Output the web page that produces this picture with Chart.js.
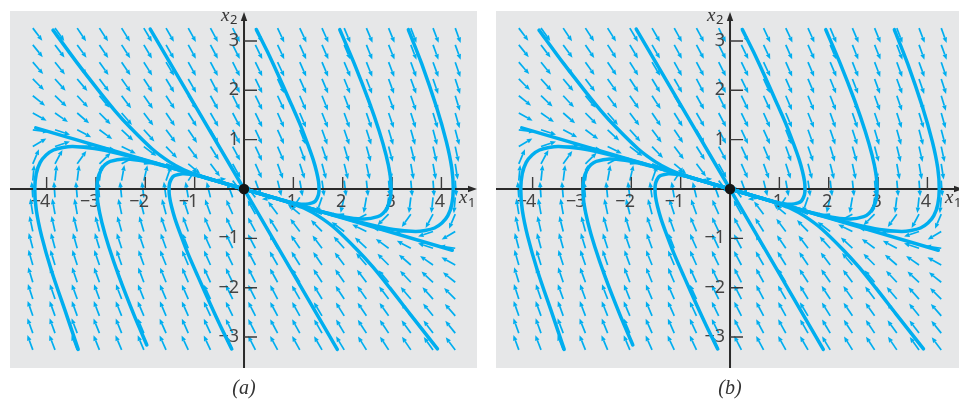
<!DOCTYPE html>
<html>
<head>
<meta charset="utf-8">
<script src="https://cdn.jsdelivr.net/npm/chart.js@4.4.0/dist/chart.umd.min.js"></script>
<style>
  html, body { margin: 0; padding: 0; background: #fff; }
  body { width: 959px; height: 399px; position: relative; overflow: hidden; }
  .panel { position: absolute; top: 0; height: 399px; overflow: hidden; }
  canvas { display: block; }
</style>
</head>
<body>
<div class="panel" style="left:0;width:480px"><canvas id="chartA" width="480" height="399"></canvas></div>
<div class="panel" style="left:480px;width:479px"><canvas id="chartB" width="486" height="399"></canvas></div>
<script>
// --- direction field grid (arrow tails) ---
const fieldX = [-4.28, -3.83, -3.38, -2.93, -2.48, -2.03, -1.58, -1.13, -0.68, -0.23,
                0.23, 0.68, 1.13, 1.58, 2.03, 2.48, 2.93, 3.38, 3.83, 4.28];
const fieldY = [3.26, 2.92, 2.57, 2.23, 1.89, 1.54, 1.20, 0.86, 0.51, 0.17,
                -0.17, -0.51, -0.86, -1.20, -1.54, -1.89, -2.23, -2.57, -2.92, -3.26];
// arrow direction in degrees (counter-clockwise from +x1), one row per fieldY value
const fieldAngles = [
  [-53,-54,-56,-57,-58,-59,-60,-61,-62,-63,-64,-65,-65,-66,-67,-67,-68,-69,-69,-70],
  [-51,-53,-54,-56,-57,-59,-60,-61,-62,-63,-64,-65,-66,-66,-67,-68,-68,-69,-70,-70],
  [-49,-51,-53,-55,-56,-58,-59,-61,-62,-63,-64,-65,-66,-67,-67,-68,-69,-70,-70,-71],
  [-45,-48,-50,-53,-55,-57,-59,-60,-62,-63,-64,-65,-66,-67,-68,-69,-70,-70,-71,-72],
  [-39,-43,-47,-50,-53,-55,-57,-59,-61,-63,-64,-65,-67,-68,-69,-70,-70,-71,-72,-73],
  [-29,-35,-41,-45,-49,-53,-56,-58,-60,-62,-64,-66,-67,-68,-70,-71,-71,-72,-73,-74],
  [-8,-18,-28,-36,-43,-48,-53,-56,-60,-62,-65,-66,-68,-70,-71,-72,-73,-74,-75,-75],
  [31,19,3,-12,-26,-37,-46,-53,-58,-62,-65,-67,-70,-71,-73,-74,-75,-76,-77,-78],
  [67,62,55,45,28,4,-21,-40,-53,-61,-66,-70,-72,-75,-76,-78,-79,-80,-80,-81],
  [85,84,83,82,80,77,71,57,7,-52,-70,-76,-80,-82,-83,-84,-85,-85,-86,-86],
  [94,94,95,95,96,97,98,100,104,110,128,-173,-123,-109,-103,-100,-98,-97,-96,-95],
  [99,100,100,101,102,104,105,108,110,114,119,127,140,159,-176,-152,-135,-125,-118,-113],
  [102,103,104,105,106,107,109,110,113,115,118,122,127,134,143,154,168,-177,-161,-149],
  [105,105,106,107,108,109,110,112,114,115,118,120,124,127,132,137,144,152,162,172],
  [106,107,108,109,109,110,112,113,114,116,118,120,122,124,127,131,135,139,145,151],
  [107,108,109,110,110,111,112,113,115,116,117,119,121,123,125,127,130,133,137,141],
  [108,109,110,110,111,112,113,114,115,116,117,118,120,121,123,125,127,130,132,135],
  [109,110,110,111,112,113,113,114,115,116,117,118,119,121,122,124,125,127,129,131],
  [110,110,111,112,112,113,114,114,115,116,117,118,119,120,121,123,124,126,127,129],
  [110,111,111,112,113,113,114,115,115,116,117,118,119,120,121,122,123,124,126,127]
];

// --- trajectories [x1, x2] ---
const slowUpper = [[-4.22, 1.24], [0, 0]];
const slowLower = [[4.22, -1.24], [0, 0]];
const fastUpper = [[-1.90, 3.24], [0, 0]];
const fastLower = [[1.89, -3.25], [0, 0]];
const trajA = [[-3.87,3.22],[-3.37,2.54],[-2.95,2.0],[-2.61,1.58],[-2.31,1.25],[-1.86,0.81],
               [-1.51,0.55],[-1.22,0.39],[-0.96,0.29],[-0.72,0.21],[0,0]];
const trajJ = [[3.92,-3.24],[3.37,-2.54],[2.95,-2.0],[2.61,-1.58],[2.31,-1.25],[1.86,-0.81],
               [1.51,-0.55],[1.22,-0.39],[0.96,-0.29],[0.72,-0.21],[0,0]];
const trajC = [[0.25,3.23],[0.48,2.77],[0.67,2.36],[0.93,1.78],[1.14,1.30],[1.29,0.91],[1.40,0.60],
               [1.47,0.35],[1.51,0.15],[1.52,0],[1.51,-0.11],[1.48,-0.19],[1.44,-0.25],[1.38,-0.28],
               [1.25,-0.31],[1.09,-0.30],[0.91,-0.26],[0.73,-0.21],[0,0]];
const trajD = [[1.94,3.23],[2.23,2.55],[2.53,1.78],[2.74,1.17],[2.88,0.68],[2.96,0.29],[2.98,0],
               [2.96,-0.22],[2.90,-0.38],[2.82,-0.49],[2.71,-0.56],[2.44,-0.61],[2.13,-0.58],
               [1.79,-0.51],[1.44,-0.42],[1.08,-0.32],[0,0]];
const trajE = [[3.33,3.23],[3.60,2.54],[3.90,1.66],[4.10,0.96],[4.21,0.42],[4.24,0],[4.21,-0.31],
               [4.13,-0.54],[4.01,-0.69],[3.86,-0.79],[3.67,-0.84],[3.47,-0.86],[3.03,-0.82],
               [2.54,-0.72],[2.04,-0.59],[1.54,-0.45],[0,0]];
const trajF = [[-3.36,-3.25],[-3.60,-2.54],[-3.90,-1.66],[-4.10,-0.96],[-4.21,-0.42],[-4.24,0],
               [-4.21,0.31],[-4.13,0.54],[-4.01,0.69],[-3.86,0.79],[-3.67,0.84],[-3.47,0.86],
               [-3.03,0.82],[-2.54,0.72],[-2.04,0.59],[-1.54,0.45],[0,0]];
const trajG = [[-1.97,-3.16],[-2.23,-2.55],[-2.53,-1.78],[-2.74,-1.17],[-2.88,-0.68],[-2.96,-0.29],
               [-2.98,0],[-2.96,0.22],[-2.90,0.38],[-2.82,0.49],[-2.71,0.56],[-2.44,0.61],
               [-2.13,0.58],[-1.79,0.51],[-1.44,0.42],[-1.08,0.32],[0,0]];
const trajH = [[-0.25,-3.24],[-0.48,-2.77],[-0.67,-2.36],[-0.93,-1.78],[-1.14,-1.30],[-1.29,-0.91],
               [-1.40,-0.60],[-1.47,-0.35],[-1.51,-0.15],[-1.52,0],[-1.51,0.11],[-1.48,0.19],
               [-1.44,0.25],[-1.38,0.28],[-1.25,0.31],[-1.09,0.30],[-0.91,0.26],[-0.73,0.21],[0,0]];

const xTicks = [-4, -3, -2, -1, 1, 2, 3, 4];
const yTicks = [-3, -2, -1, 1, 2, 3];

const CYAN = '#00aeef';
const AXIS = '#2a2a2a';
const LABEL = '#444444';
const ARROW_LEN = 0.32; // data units

const trajectories = [slowUpper, slowLower, fastUpper, fastLower,
  trajA, trajJ, trajC, trajD, trajE, trajF, trajG, trajH];

function drawArrow(ctx, x0, y0, x1, y1) {
  const ang = Math.atan2(y1 - y0, x1 - x0);
  const head = 5.5, half = 2.3;
  const bx = x1 - head * Math.cos(ang), by = y1 - head * Math.sin(ang);
  ctx.beginPath();
  ctx.moveTo(x0, y0);
  ctx.lineTo(bx, by);
  ctx.stroke();
  ctx.beginPath();
  ctx.moveTo(x1, y1);
  ctx.lineTo(bx - half * Math.sin(ang), by + half * Math.cos(ang));
  ctx.lineTo(bx + half * Math.sin(ang), by - half * Math.cos(ang));
  ctx.closePath();
  ctx.fill();
}

const phasePlugin = {
  id: 'phase',
  beforeDraw(chart) {
    const { ctx, chartArea: a } = chart;
    ctx.save();
    ctx.fillStyle = '#e6e7e8';
    ctx.fillRect(a.left, a.top, a.right - a.left, a.bottom - a.top);
    ctx.restore();
  },
  beforeDatasetsDraw(chart) {
    const { ctx, chartArea: a } = chart;
    const xs = chart.scales.x, ys = chart.scales.y;
    ctx.save();
    // direction field
    ctx.strokeStyle = CYAN;
    ctx.fillStyle = CYAN;
    ctx.lineWidth = 1.7;
    ctx.lineCap = 'butt';
    fieldY.forEach((fy, r) => {
      fieldX.forEach((fx, c) => {
        const t = fieldAngles[r][c] * Math.PI / 180;
        drawArrow(ctx,
          xs.getPixelForValue(fx), ys.getPixelForValue(fy),
          xs.getPixelForValue(fx + ARROW_LEN * Math.cos(t)), ys.getPixelForValue(fy + ARROW_LEN * Math.sin(t)));
      });
    });

    // axes
    const ox = xs.getPixelForValue(0), oy = ys.getPixelForValue(0);
    ctx.strokeStyle = AXIS;
    ctx.fillStyle = AXIS;
    ctx.lineWidth = 2;
    ctx.beginPath();
    ctx.moveTo(a.left, oy); ctx.lineTo(a.right - 6, oy);
    ctx.moveTo(ox, a.bottom); ctx.lineTo(ox, a.top + 7);
    ctx.stroke();
    ctx.beginPath(); // x arrowhead
    ctx.moveTo(a.right, oy); ctx.lineTo(a.right - 9, oy - 3.2); ctx.lineTo(a.right - 9, oy + 3.2);
    ctx.closePath(); ctx.fill();
    ctx.beginPath(); // y arrowhead
    ctx.moveTo(ox, a.top + 1); ctx.lineTo(ox - 3.2, a.top + 10); ctx.lineTo(ox + 3.2, a.top + 10);
    ctx.closePath(); ctx.fill();

    // ticks
    ctx.lineWidth = 1.4;
    ctx.strokeStyle = '#3a3a3a';
    ctx.beginPath();
    xTicks.forEach(v => {
      const px = xs.getPixelForValue(v);
      ctx.moveTo(px, oy); ctx.lineTo(px, oy - 12);
    });
    yTicks.forEach(v => {
      const py = ys.getPixelForValue(v);
      ctx.moveTo(ox, py); ctx.lineTo(ox + 13, py);
    });
    ctx.stroke();

    // tick labels
    ctx.fillStyle = LABEL;
    ctx.font = '18px "Noto Sans"';
    ctx.textBaseline = 'middle';
    xTicks.forEach(v => {
      const px = xs.getPixelForValue(v) - 1.5;
      const digit = String(Math.abs(v));
      ctx.textAlign = 'center';
      ctx.fillText(digit, px, oy + 13);
      if (v < 0) {
        const w = ctx.measureText(digit).width;
        ctx.textAlign = 'right';
        ctx.fillText('\u2212', px - w / 2 + 1, oy + 13);
      }
    });
    ctx.textAlign = 'right';
    yTicks.forEach(v => {
      const py = ys.getPixelForValue(v);
      ctx.fillText(v < 0 ? '\u2212' + Math.abs(v) : String(v), ox - 5, py);
    });

    // axis names
    ctx.textBaseline = 'alphabetic';
    ctx.textAlign = 'left';
    ctx.fillStyle = '#333';
    ctx.font = 'italic 19px "Liberation Serif"';
    ctx.fillText('x', ox - 23, a.top + 10);
    ctx.fillText('x', a.right - 18, oy + 14);
    ctx.font = '13px "Noto Sans"';
    ctx.fillText('2', ox - 14, a.top + 13);
    ctx.fillText('1', a.right - 9, oy + 18);
    ctx.restore();
  },
  afterDatasetsDraw(chart) {
    const { ctx } = chart;
    const ox = chart.scales.x.getPixelForValue(0), oy = chart.scales.y.getPixelForValue(0);
    ctx.save();
    ctx.fillStyle = '#151515';
    ctx.beginPath();
    ctx.arc(ox, oy, 5.2, 0, Math.PI * 2);
    ctx.fill();
    ctx.restore();
  },
  afterDraw(chart) {
    const { ctx } = chart;
    const ox = chart.scales.x.getPixelForValue(0);
    ctx.save();
    ctx.fillStyle = '#333';
    ctx.font = 'italic 20px "Liberation Serif"';
    ctx.textAlign = 'center';
    ctx.textBaseline = 'alphabetic';
    ctx.fillText(chart.options.plugins.phase.caption, ox, 394);
    ctx.restore();
  }
};

function makeChart(id, padLeft, caption) {
  return new Chart(document.getElementById(id), {
    type: 'scatter',
    data: {
      datasets: trajectories.map(t => ({
        data: t.map(p => ({ x: p[0], y: p[1] })),
        showLine: true,
        borderColor: CYAN,
        borderWidth: 3.5,
        pointRadius: 0,
        tension: 0.3,
        borderCapStyle: 'round'
      }))
    },
    options: {
      responsive: false,
      animation: false,
      devicePixelRatio: 1,
      events: [],
      layout: { padding: { left: padLeft, right: 3, top: 11, bottom: 31 } },
      plugins: {
        legend: { display: false },
        tooltip: { enabled: false },
        phase: { caption: caption }
      },
      scales: {
        x: { type: 'linear', min: -4.742, max: 4.721, display: false },
        y: { type: 'linear', min: -3.627, max: 3.607, display: false }
      }
    },
    plugins: [phasePlugin]
  });
}

makeChart('chartA', 10, '(a)');
makeChart('chartB', 16, '(b)');
</script>
</body>
</html>
